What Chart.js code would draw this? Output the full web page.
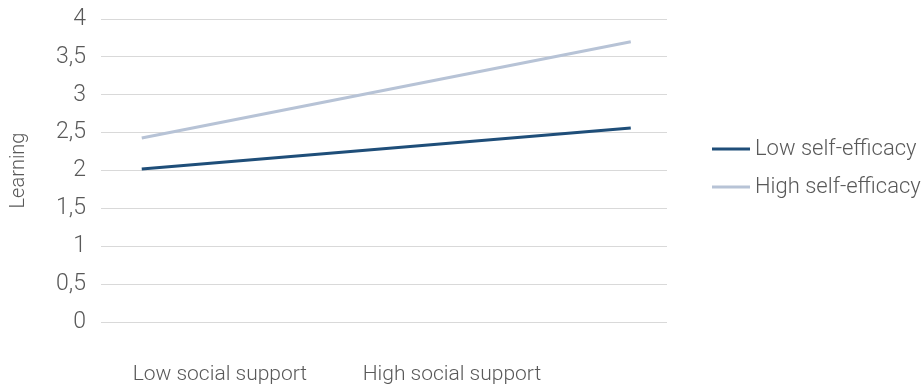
<!DOCTYPE html>
<html>
<head>
<meta charset="utf-8">
<script src="https://cdn.jsdelivr.net/npm/chart.js@4/dist/chart.umd.min.js"></script>
<style>
html,body{margin:0;padding:0;background:#fff;}
#wrap{width:922px;height:386px;position:relative;}
</style>
</head>
<body>
<div id="wrap"><canvas id="c" width="922" height="386"></canvas></div>
<script>
// Data
const categories = ["Low social support", "High social support"];
const seriesNames = ["Low self-efficacy", "High self-efficacy"];
const lowSelfEfficacy = [2.02, 2.56];
const highSelfEfficacy = [2.43, 3.70];
const yTicks = [0, 0.5, 1, 1.5, 2, 2.5, 3, 3.5, 4];

// Layout positions (on the shared linear x scale 0..1)
const linePos = [0.072, 0.936];
const labelPos = [0.21, 0.62];

const FONT = "Roboto, sans-serif";
const TEXT = '#595959';
const colors = ['#1F4E79', '#B7C3D6'];

const toPts = vals => vals.map((v, i) => ({x: linePos[i], y: v}));

const legendPlugin = {
  id: 'customLegend',
  afterDraw(chart) {
    const ctx = chart.ctx;
    ctx.save();
    const x0 = 712, ys = [149, 187];
    chart.data.datasets.forEach((ds, i) => {
      ctx.strokeStyle = ds.borderColor;
      ctx.lineWidth = 3;
      ctx.beginPath();
      ctx.moveTo(x0, ys[i]);
      ctx.lineTo(x0 + 38, ys[i]);
      ctx.stroke();
      ctx.fillStyle = TEXT;
      ctx.font = "300 22px " + FONT;
      ctx.textBaseline = 'middle';
      ctx.textAlign = 'left';
      ctx.fillText(ds.label, x0 + 43, ys[i]);
    });
    ctx.restore();
  }
};

new Chart(document.getElementById('c'), {
  type: 'line',
  data: {
    datasets: [
      {label: seriesNames[0], data: toPts(lowSelfEfficacy), borderColor: colors[0], backgroundColor: colors[0], borderWidth: 3, pointRadius: 0, tension: 0},
      {label: seriesNames[1], data: toPts(highSelfEfficacy), borderColor: colors[1], backgroundColor: colors[1], borderWidth: 3, pointRadius: 0, tension: 0}
    ]
  },
  options: {
    responsive: false,
    animation: false,
    layout: {padding: {left: 7, right: 255, top: 19, bottom: 0}},
    plugins: {legend: {display: false}, tooltip: {enabled: false}},
    scales: {
      x: {
        type: 'linear', min: 0, max: 1,
        afterBuildTicks: axis => { axis.ticks = labelPos.map(v => ({value: v})); },
        afterFit: axis => { axis.height = 64; axis.paddingLeft = 0; axis.paddingRight = 0; },
        ticks: {
          autoSkip: false, maxRotation: 0,
          callback: (v, i) => categories[i],
          color: TEXT, font: {family: FONT, size: 21, weight: 300}, padding: 40
        },
        grid: {display: false, drawTicks: false},
        border: {display: false}
      },
      y: {
        min: 0, max: 4,
        afterBuildTicks: axis => { axis.ticks = yTicks.map(v => ({value: v})); },
        afterFit: axis => { axis.width = 94; axis.paddingTop = 0; axis.paddingBottom = 0; },
        ticks: {
          color: TEXT, font: {family: FONT, size: 23, weight: 300}, padding: 15,
          callback: v => String(v).replace('.', ',')
        },
        grid: {color: '#D9D9D9', lineWidth: 1, drawTicks: false},
        border: {display: false},
        title: {display: true, text: 'Learning', color: TEXT, font: {family: FONT, size: 20, weight: 300}, padding: {top: 0, bottom: 0}}
      }
    }
  },
  plugins: [legendPlugin]
});
</script>
</body>
</html>
